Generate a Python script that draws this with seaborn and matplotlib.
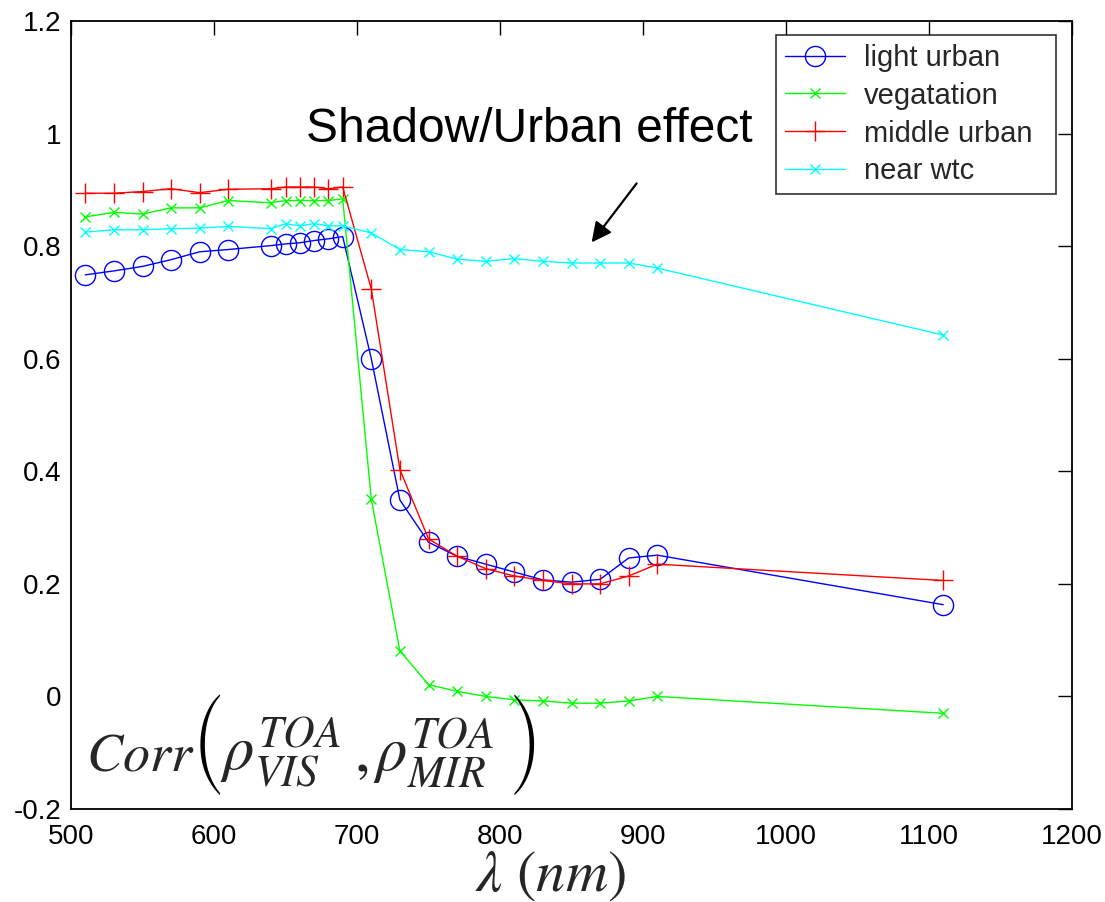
import matplotlib
matplotlib.use("Agg")
import matplotlib.pyplot as plt
from matplotlib.textpath import TextPath
from matplotlib.font_manager import FontProperties
import seaborn as sns
import pandas as pd

# ---- data ----
wavelength = [510, 530, 550, 570, 590, 610, 640, 650, 660, 670, 680, 690,
              710, 730, 750, 770, 790, 810, 830, 850, 870, 890, 910, 1110]
light_urban = [0.749, 0.756, 0.764, 0.776, 0.790, 0.794, 0.801, 0.804, 0.806, 0.810, 0.813, 0.817,
               0.600, 0.349, 0.274, 0.249, 0.235, 0.221, 0.207, 0.203, 0.208, 0.246, 0.251, 0.163]
vegetation = [0.852, 0.860, 0.857, 0.868, 0.868, 0.881, 0.877, 0.881, 0.881, 0.881, 0.881, 0.884,
              0.350, 0.081, 0.021, 0.009, 0.000, -0.006, -0.008, -0.012, -0.012, -0.008, 0.000, -0.030]
middle_urban = [0.894, 0.894, 0.897, 0.902, 0.895, 0.901, 0.902, 0.905, 0.905, 0.905, 0.902, 0.905,
                0.724, 0.403, 0.280, 0.249, 0.227, 0.214, 0.206, 0.200, 0.200, 0.214, 0.235, 0.206]
near_wtc = [0.825, 0.829, 0.829, 0.831, 0.832, 0.835, 0.831, 0.840, 0.836, 0.840, 0.836, 0.836,
            0.8235, 0.794, 0.790, 0.777, 0.773, 0.778, 0.773, 0.770, 0.770, 0.770, 0.761, 0.642]
series_names = ["light urban", "vegatation", "middle urban", "near wtc"]
x_ticks = [500, 600, 700, 800, 900, 1000, 1100, 1200]
y_ticks = [-0.2, 0, 0.2, 0.4, 0.6, 0.8, 1.0, 1.2]
y_tick_labels = ["-0.2", "0", "0.2", "0.4", "0.6", "0.8", "1", "1.2"]
annotation_text = "Shadow/Urban effect"

sns.set_style("white")
plt.rcParams["font.family"] = ["Liberation Sans", "DejaVu Sans"]
plt.rcParams["mathtext.fontset"] = "stix"

df = pd.DataFrame({
    "wavelength": wavelength * 4,
    "corr": light_urban + vegetation + middle_urban + near_wtc,
    "series": sum([[n] * len(wavelength) for n in series_names], []),
})

W, H = 1105, 902
fig = plt.figure(figsize=(W / 100, H / 100), dpi=100)
AX_L, AX_R, AX_T, AX_B = 71, 1072, 21, 809
ax = fig.add_axes([AX_L / W, 1 - AX_B / H, (AX_R - AX_L) / W, (AX_B - AX_T) / H])


def fx(px):
    return (px - AX_L) / (AX_R - AX_L)


def fy(py):
    return (AX_B - py) / (AX_B - AX_T)


styles = {
    "light urban": dict(color="#0000ff", marker="o", markersize=14.5, markerfacecolor="none",
                        markeredgecolor="#0000ff", markeredgewidth=1.0),
    "vegatation": dict(color="#00ff00", marker="x", markersize=7,
                       markeredgecolor="#00ff00", markeredgewidth=1.0),
    "middle urban": dict(color="#ff0000", marker="+", markersize=14.5,
                         markeredgecolor="#ff0000", markeredgewidth=1.0),
    "near wtc": dict(color="#00ffff", marker="x", markersize=7.5,
                     markeredgecolor="#00ffff", markeredgewidth=1.0),
}
for name in series_names:
    sub = df[df["series"] == name]
    sns.lineplot(data=sub, x="wavelength", y="corr", ax=ax, label=name,
                 linewidth=1.0, sort=False, **styles[name])

ax.set_xlim(500, 1200)
ax.set_ylim(-0.2, 1.2)
ax.set_xticks(x_ticks)
ax.set_yticks(y_ticks)
ax.set_yticklabels(y_tick_labels)
ax.tick_params(direction="in", length=10, width=1.0, top=True, right=True,
               labelsize=20, colors="black")
ax.tick_params(axis="x", pad=11)
ax.tick_params(axis="y", pad=7)
for s in ax.spines.values():
    s.set_color("black")
    s.set_linewidth(1.3)

ax.set_ylabel("")
ax.set_xlabel(r"$\lambda\ (nm)$", fontsize=42)
ax.xaxis.set_label_coords(0.4785, -0.051)
ax.xaxis.label.set_va("top")

lx0, lx1, ly0, ly1 = 776, 1056, 35, 192
leg = ax.legend(loc="upper left",
                bbox_to_anchor=(fx(lx0), fy(ly1), fx(lx1) - fx(lx0), fy(ly0) - fy(ly1)),
                mode="expand", borderaxespad=0,
                fontsize=21, frameon=True, fancybox=False, edgecolor="black",
                handlelength=2.05, labelspacing=0.34, borderpad=0.3, handletextpad=0.65)
leg.get_frame().set_linewidth(1.2)

ax.text(fx(306), fy(141.7), annotation_text, fontsize=34.5, ha="left", va="baseline",
        color="black", transform=ax.transAxes)
ax.annotate("", xy=(862.9, 0.8027), xytext=(896.7, 0.9154),
            arrowprops=dict(arrowstyle="-|>", color="black", lw=1.6, mutation_scale=30))

# ---- formula Corr(rho_VIS^TOA, rho_MIR^TOA) ----
base = 770.7
ax.text(fx(86), fy(base), r"$Corr$", fontsize=39, ha="left", va="baseline",
        transform=ax.transAxes)
ax.text(fx(220), fy(base), r"$\rho^{TOA}_{VIS}$", fontsize=45, ha="left", va="baseline",
        transform=ax.transAxes)
ax.text(fx(354), fy(base), r"$,$", fontsize=45, ha="left", va="baseline",
        transform=ax.transAxes)
ax.text(fx(373), fy(base), r"$\rho^{TOA}_{MIR}$", fontsize=45, ha="left", va="baseline",
        transform=ax.transAxes)

# tall, slender parentheses from the STIX sized-delimiter fonts
paren_top, paren_bot = 695.0, 795.0
target_h = paren_bot - paren_top
best = None
for fam in ["STIXSizeOneSym", "STIXSizeTwoSym", "STIXSizeThreeSym", "STIXSizeFourSym"]:
    try:
        prop = FontProperties(family=fam)
        ext = TextPath((0, 0), "(", size=1, prop=prop).get_extents()
        if ext.height <= 0:
            continue
        ratio = ext.width / ext.height
        if best is None or abs(ratio - 0.17) < abs(best[2] - 0.17):
            best = (fam, ext, ratio)
    except Exception:
        pass
if best is None:
    fam = "STIXGeneral"
    ext = TextPath((0, 0), "(", size=1, prop=FontProperties(family=fam)).get_extents()
else:
    fam, ext, _ = best
em_px = target_h / ext.height
fs_pt = em_px * 72 / 100
for ch, left_px in [("(", 200.5), (")", 514.0)]:
    e = TextPath((0, 0), ch, size=1, prop=FontProperties(family=fam)).get_extents()
    x_origin = left_px - e.x0 * em_px
    base_py = paren_bot + e.y0 * em_px
    ax.text(fx(x_origin), fy(base_py), ch, family=fam, fontsize=fs_pt, ha="left",
            va="baseline", transform=ax.transAxes, color="black")

fig.savefig("out.png", dpi=100, facecolor="white")
